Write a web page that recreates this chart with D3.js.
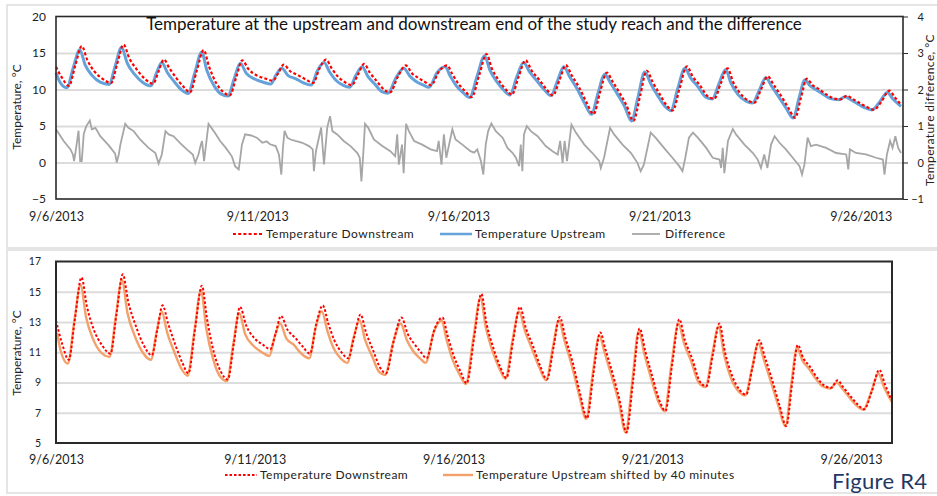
<!DOCTYPE html>
<html><head><meta charset="utf-8">
<script src="https://cdn.jsdelivr.net/npm/d3@7"></script>
<style>
body{margin:0;background:#fff}
text{font-family:Lato,"Liberation Sans",sans-serif;fill:#222}
</style>
</head><body>
<svg id="c" width="937" height="496"></svg>
<script>
// ---------------- DATA (days since 9/6/2013 00:00) ----------------
const days = [
 0.00,0.15,0.32,0.48,0.64,0.78,0.95,1.15,
 1.37,1.52,1.68,1.82,2.00,2.20,
 2.41,2.55,2.68,2.82,3.00,3.18,
 3.33,3.50,3.67,3.80,3.98,4.15,
 4.32,4.48,4.63,4.78,5.00,5.20,
 5.39,5.52,5.66,5.82,6.00,6.20,
 6.39,6.55,6.71,6.85,7.00,7.18,
 7.35,7.50,7.66,7.80,7.98,8.15,
 8.30,8.50,8.69,8.85,9.00,9.18,
 9.32,9.52,9.72,9.85,10.00,10.18,
 10.33,10.52,10.70,10.83,11.00,11.18,
 11.33,11.50,11.67,11.82,12.00,12.18,
 12.35,12.52,12.67,12.82,13.00,13.18,
 13.36,13.52,13.69,13.82,14.00,14.18,
 14.35,14.52,14.68,14.83,15.00,15.18,
 15.33,15.50,15.68,15.82,16.00,16.20,
 16.36,16.52,16.69,16.83,17.00,17.20,
 17.36,17.52,17.69,17.83,18.00,18.20,
 18.37,18.52,18.66,18.80,18.95,19.15,19.30,19.50,19.66,19.80,
 20.00,20.15,20.33,20.52,20.71,20.85,21.00
];
const downstream = [
 13.1,11.6,10.5,13.3,15.95,14.0,12.5,11.5,
 10.9,13.5,16.15,14.3,12.8,11.5,
 10.8,12.5,14.1,12.9,11.5,10.3,
 9.6,12.6,15.4,13.2,10.9,9.7,
 9.2,11.7,14.0,12.8,11.9,11.5,
 11.2,12.2,13.4,12.5,12.0,11.4,
 10.9,12.9,14.1,12.9,11.8,11.0,
 10.6,12.0,13.5,12.3,11.1,10.0,
 9.6,11.8,13.3,12.2,11.6,11.0,
 10.6,12.5,13.3,12.1,10.8,9.7,
 8.95,12.0,14.86,12.9,11.3,10.0,
 9.3,11.8,14.0,12.6,11.4,10.1,
 9.2,11.4,13.33,11.9,10.3,8.3,
 6.64,9.6,12.31,11.2,9.6,7.8,
 5.7,9.2,12.57,11.0,9.4,7.8,
 7.12,10.2,13.18,11.8,10.6,9.05,
 8.75,10.8,12.9,11.0,9.5,8.5,
 8.2,10.0,11.8,10.7,9.3,7.5,
 6.13,9.0,11.48,10.6,10.1,9.3,8.85,8.65,9.15,8.7,
 8.05,7.6,7.23,8.4,9.84,8.9,7.95
];
const upDays = [
 0.00,0.10,0.27,0.43,0.59,0.73,0.90,1.10,
 1.32,1.47,1.63,1.77,1.95,2.15,
 2.36,2.50,2.63,2.77,2.95,3.13,
 3.28,3.45,3.62,3.75,3.93,4.10,
 4.27,4.43,4.58,4.73,4.95,5.15,
 5.34,5.47,5.61,5.77,5.95,6.15,
 6.34,6.50,6.66,6.80,6.95,7.13,
 7.30,7.45,7.61,7.75,7.93,8.10,
 8.25,8.45,8.64,8.80,8.95,9.13,
 9.27,9.47,9.67,9.80,9.95,10.13,
 10.28,10.47,10.65,10.78,10.95,11.13,
 11.28,11.45,11.62,11.77,11.95,12.13,
 12.30,12.47,12.62,12.77,12.95,13.13,
 13.31,13.47,13.64,13.77,13.95,14.13,
 14.30,14.47,14.63,14.78,14.95,15.13,
 15.28,15.45,15.63,15.77,15.95,16.15,
 16.31,16.47,16.64,16.78,16.95,17.15,
 17.31,17.47,17.64,17.78,17.95,18.15,
 18.32,18.47,18.61,18.75,18.90,19.10,19.25,19.45,19.61,19.75,
 19.95,20.10,20.28,20.47,20.66,20.80,21.00
];
const upstream = [
 12.3,11.0,10.25,13.0,15.45,13.3,11.9,11.0,
 10.7,13.2,15.8,13.6,12.1,11.0,
 10.5,12.3,13.7,12.3,11.0,9.9,
 9.45,12.3,15.1,12.6,10.5,9.4,
 9.1,11.5,13.6,12.2,11.4,11.0,
 10.75,12.0,12.9,11.9,11.5,10.9,
 10.6,12.6,13.7,12.4,11.3,10.6,
 10.3,11.9,13.1,11.8,10.7,9.7,
 9.5,11.6,12.9,11.8,11.1,10.6,
 10.3,12.3,13.1,11.8,10.5,9.5,
 8.9,11.9,14.6,12.7,11.1,9.9,
 9.25,11.7,13.7,12.4,11.2,10.0,
 9.15,11.3,13.1,11.7,10.1,8.2,
 6.6,9.5,12.1,11.0,9.4,7.7,
 5.7,9.1,12.4,10.8,9.2,7.7,
 7.1,10.1,12.9,11.6,10.4,8.95,
 8.7,10.7,12.7,10.8,9.3,8.4,
 8.15,9.8,11.6,10.5,9.1,7.4,
 6.1,8.9,11.3,10.45,9.95,9.2,8.75,8.6,9.0,8.6,
 7.95,7.5,7.2,8.3,9.6,8.7,7.7
];
const diffDays = [
 0.00,0.19,0.36,0.42,0.45,0.50,0.56,0.60,0.64,0.69,0.75,0.84,0.89,0.98,1.10,1.31,1.47,1.51,1.56,1.60,
 1.72,1.80,1.93,2.09,2.30,2.47,2.55,2.63,2.72,2.80,2.92,3.08,3.25,3.40,3.46,3.54,3.60,3.63,3.68,
 3.79,3.92,4.08,4.22,4.37,4.45,4.54,4.58,4.62,4.70,4.85,4.99,5.13,5.23,5.32,5.46,5.54,5.60,5.64,
 5.68,5.75,5.83,5.95,6.12,6.29,6.38,6.41,6.46,6.59,6.66,6.74,6.81,6.87,6.99,7.15,7.32,7.49,7.55,7.59,7.63,
 7.68,7.76,7.90,8.11,8.31,8.43,8.48,8.52,8.60,8.64,8.70,8.77,8.90,9.10,9.31,9.47,9.51,9.58,9.64,9.70,
 9.85,9.93,10.10,10.30,10.39,10.47,10.56,10.62,10.68,10.74,10.82,10.93,11.10,11.22,11.35,11.43,11.51,11.55,11.59,11.63,
 11.70,11.80,11.97,12.17,12.34,12.47,12.53,12.59,12.64,12.70,12.81,12.92,13.13,13.33,13.50,13.54,13.62,
 13.77,13.87,14.08,14.29,14.45,14.53,14.61,14.78,14.90,15.11,15.32,15.49,15.57,15.64,15.73,15.83,15.95,
 16.16,16.32,16.49,16.53,16.57,16.61,16.70,16.82,16.90,17.11,17.32,17.44,17.52,17.60,17.68,17.77,17.86,17.98,
 18.14,18.31,18.48,18.54,18.60,18.68,18.76,18.89,19.14,19.39,19.64,19.69,19.73,19.88,20.13,20.38,20.55,20.59,20.65,
 20.73,20.79,20.86,20.93,21.00
];
const difference = [
 0.91,0.59,0.36,0.22,0.04,0.40,0.87,0.04,0.04,0.78,0.99,1.15,0.91,0.95,0.72,0.47,0.24,0.00,0.22,0.49,
 1.06,0.95,0.86,0.63,0.40,0.26,-0.03,0.22,0.86,0.77,0.72,0.54,0.36,0.22,-0.01,0.22,0.49,0.59,0.04,
 1.06,0.86,0.59,0.40,0.17,-0.10,-0.19,0.13,0.49,0.77,0.74,0.68,0.54,0.58,0.50,0.45,0.22,-0.33,0.40,
 0.87,0.68,0.63,0.59,0.54,0.45,0.36,-0.24,0.31,0.96,-0.05,0.95,1.27,0.86,0.77,0.59,0.45,0.26,0.13,-0.52,0.13,
 1.06,0.95,0.63,0.45,0.31,0.17,0.77,-0.06,0.49,-0.29,1.06,0.86,0.59,0.49,0.36,0.31,0.59,-0.06,0.77,0.13,
 0.91,0.63,0.49,0.31,0.27,0.36,0.04,-0.33,0.49,0.86,1.07,0.86,0.68,0.40,0.26,0.13,-0.10,0.49,-0.24,0.77,
 1.00,0.86,0.72,0.45,0.31,0.22,0.59,-0.01,0.59,0.04,1.04,0.82,0.49,0.26,0.04,-0.15,0.13,
 0.95,0.77,0.49,0.26,-0.01,-0.24,-0.06,0.82,0.68,0.40,0.13,-0.10,-0.24,0.13,0.68,0.82,0.68,
 0.40,0.13,0.08,-0.15,0.40,-0.29,0.59,0.92,0.77,0.49,0.26,0.08,-0.15,0.22,-0.15,0.49,0.72,0.54,
 0.36,0.13,-0.10,-0.33,-0.06,0.68,0.45,0.49,0.40,0.26,0.22,-0.19,0.36,0.26,0.22,0.13,0.08,-0.33,0.22,
 0.59,0.40,0.72,0.40,0.26
];
const shiftMinutes = 40;
const xTickDays = [0, 5, 10, 15, 20];
const xTickLabels = ["9/6/2013", "9/11/2013", "9/16/2013", "9/21/2013", "9/26/2013"];
const topLeftTicks = [-5, 0, 5, 10, 15, 20];
const topRightTicks = [-1, 0, 1, 2, 3, 4];
const bottomTicks = [5, 7, 9, 11, 13, 15, 17];
const topTitle = "Temperature at the upstream and downstream end of the study reach and the difference";
const topLegend = ["Temperature Downstream", "Temperature Upstream", "Difference"];
const bottomLegend = ["Temperature Downstream", "Temperature Upstream shifted by 40 minutes"];
const yTitle = "Temperature, °C";
const y2Title = "Temperature difference, °C";
const figureLabel = "Figure R4";

// ---------------- DRAW ----------------
const svg = d3.select("#c");
const C = {red:"#FF0000", blue:"#65A2DA", gray:"#A6A6A6", orange:"#F4A06A", grid:"#DCDCDC", frame:"#DDDDDD", axis:"#2a2a2a"};

svg.append("rect").attr("x",7).attr("y",5).attr("width",935).attr("height",243).attr("fill","none").attr("stroke",C.frame).attr("stroke-width",1.5);
svg.append("rect").attr("x",7).attr("y",250).attr("width",935).attr("height",243).attr("fill","none").attr("stroke",C.frame).attr("stroke-width",1.5);

const zipS = (xs, ys) => xs.map((d,i)=>[d, ys[i]]);
const dn = zipS(days, downstream), up = zipS(upDays, upstream), df = zipS(diffDays, difference);

function styleTicks(g, size){
  g.select(".domain").remove();
  g.selectAll("text").style("font-size", size+"px").style("fill","#222");
}

// ===== TOP CHART =====
const T = {l:56, r:903, t:16.5, b:199};
const xT = d3.scaleLinear().domain([0, 21.05]).range([T.l, T.r]);
const yT = d3.scaleLinear().domain([-5, 20]).range([T.b, T.t]);
const yT2 = d3.scaleLinear().domain([-1, 4]).range([T.b, T.t]);

const gT = svg.append("g");
gT.append("g").attr("transform",`translate(${T.l},0)`)
  .call(d3.axisLeft(yT).tickValues(topLeftTicks.slice(1,-1)).tickSize(-(T.r-T.l)).tickFormat(""))
  .call(g=>{g.select(".domain").remove(); g.selectAll("line").attr("stroke",C.grid).attr("stroke-width",2);});

const lineT = d3.line().x(d=>xT(d[0])).y(d=>yT(d[1])).curve(d3.curveMonotoneX);
const lineT2 = d3.line().x(d=>xT(d[0])).y(d=>yT2(d[1]));
gT.append("path").attr("d",lineT2(df)).attr("fill","none").attr("stroke",C.gray).attr("stroke-width",1.8);
gT.append("path").attr("d",lineT(up)).attr("fill","none").attr("stroke",C.blue).attr("stroke-width",3);
gT.append("path").attr("d",lineT(dn)).attr("fill","none").attr("stroke",C.red).attr("stroke-width",2.2).attr("stroke-dasharray","3,2.2");

gT.append("rect").attr("x",T.l).attr("y",T.t).attr("width",T.r-T.l).attr("height",T.b-T.t)
  .attr("fill","none").attr("stroke",C.axis).attr("stroke-width",1.6);

gT.append("g").attr("transform",`translate(${T.l},0)`)
  .call(d3.axisLeft(yT).tickValues(topLeftTicks).tickSize(0).tickPadding(10))
  .call(g=>styleTicks(g,12));
const rAx = gT.append("g").attr("transform",`translate(${T.r},0)`)
  .call(d3.axisRight(yT2).tickValues(topRightTicks).tickSize(5).tickPadding(5).tickFormat(d3.format("d")));
rAx.select(".domain").remove();
rAx.selectAll("line").attr("stroke",C.axis);
rAx.selectAll("text").attr("text-anchor","end").attr("x",21).style("font-size","11px").style("fill","#222");

gT.append("g").attr("transform",`translate(0,${T.b})`)
  .call(d3.axisBottom(xT).tickValues(xTickDays).tickFormat((d,i)=>xTickLabels[i]).tickSize(0).tickPadding(13))
  .call(g=>styleTicks(g,12.5));

gT.append("text").attr("x",474).attr("y",30).attr("text-anchor","middle").style("font-size","17px").style("fill","#111").text(topTitle);
gT.append("text").attr("transform","translate(21,107) rotate(-90)").attr("text-anchor","middle").style("font-size","12px").text(yTitle);
gT.append("text").attr("transform","translate(934,110) rotate(-90)").attr("text-anchor","middle").style("font-size","12px").style("letter-spacing","0.4px").text(y2Title);

const legT = [
  {x:233, w:30, tx:266, color:C.red, dash:"3,2.2", sw:2.2},
  {x:440, w:32, tx:475, color:C.blue, dash:null, sw:2.5},
  {x:632, w:28, tx:665, color:C.gray, dash:null, sw:1.8}
];
legT.forEach((L,i)=>{
  gT.append("line").attr("x1",L.x).attr("x2",L.x+L.w).attr("y1",234).attr("y2",234)
    .attr("stroke",L.color).attr("stroke-width",L.sw).attr("stroke-dasharray",L.dash);
  gT.append("text").attr("x",L.tx).attr("y",238).style("font-size","12px").style("letter-spacing","0.5px").text(topLegend[i]);
});

// ===== BOTTOM CHART =====
const B = {l:56, r:892, t:261.5, b:443};
const xB = d3.scaleLinear().domain([0, 21.03]).range([B.l, B.r]);
const yB = d3.scaleLinear().domain([5, 17]).range([B.b, B.t]);
const gB = svg.append("g");
gB.append("g").attr("transform",`translate(${B.l},0)`)
  .call(d3.axisLeft(yB).tickValues(bottomTicks.slice(1,-1)).tickSize(-(B.r-B.l)).tickFormat(""))
  .call(g=>{g.select(".domain").remove(); g.selectAll("line").attr("stroke",C.grid).attr("stroke-width",2);});

const shiftDays = shiftMinutes/1440;
const lineB = d3.line().x(d=>xB(d[0])).y(d=>yB(d[1])).curve(d3.curveMonotoneX);
gB.append("path").attr("d",lineB(up.map(d=>[d[0]+shiftDays,d[1]]))).attr("fill","none").attr("stroke",C.orange).attr("stroke-width",2.4);
gB.append("path").attr("d",lineB(dn)).attr("fill","none").attr("stroke",C.red).attr("stroke-width",2).attr("stroke-dasharray","2.5,2");

gB.append("rect").attr("x",B.l).attr("y",B.t).attr("width",B.r-B.l).attr("height",B.b-B.t)
  .attr("fill","none").attr("stroke",C.axis).attr("stroke-width",2);

gB.append("g").attr("transform",`translate(${B.l},0)`)
  .call(d3.axisLeft(yB).tickValues(bottomTicks).tickSize(0).tickPadding(15))
  .call(g=>styleTicks(g,10.5));
gB.append("g").attr("transform",`translate(0,${B.b})`)
  .call(d3.axisBottom(xB).tickValues(xTickDays).tickFormat((d,i)=>xTickLabels[i]).tickSize(0).tickPadding(12))
  .call(g=>styleTicks(g,12.5));
gB.append("text").attr("transform","translate(21,353) rotate(-90)").attr("text-anchor","middle").style("font-size","12px").text(yTitle);

const legB = [
  {x:225, w:32, tx:260, color:C.red, dash:"2.5,2", sw:2},
  {x:443, w:30, tx:476, color:C.orange, dash:null, sw:2.4}
];
legB.forEach((L,i)=>{
  gB.append("line").attr("x1",L.x).attr("x2",L.x+L.w).attr("y1",475).attr("y2",475)
    .attr("stroke",L.color).attr("stroke-width",L.sw).attr("stroke-dasharray",L.dash);
  gB.append("text").attr("x",L.tx).attr("y",479).style("font-size","12px").style("letter-spacing","0.5px").text(bottomLegend[i]);
});

svg.append("text").attr("x",832).attr("y",489).style("font-size","22px").style("fill","#1F3864").style("letter-spacing","0.3px").text(figureLabel);
</script>
</body></html>
